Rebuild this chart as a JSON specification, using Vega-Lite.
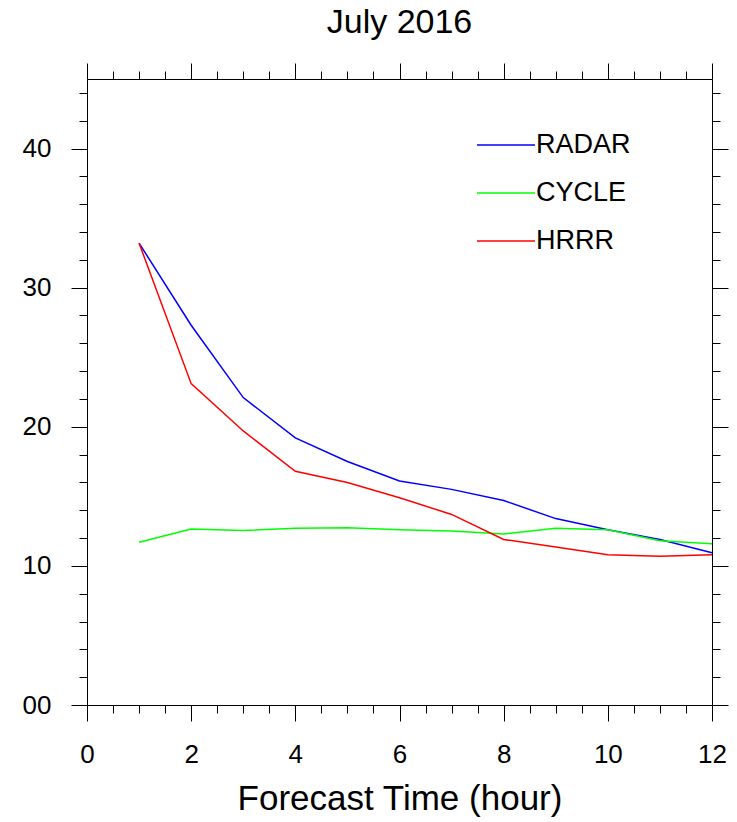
{
  "$schema": "https://vega.github.io/schema/vega-lite/v6.json",
  "width": 625,
  "height": 626,
  "autosize": "none",
  "padding": {"left": 87, "top": 79, "right": 25, "bottom": 117},
  "background": "white",
  "config": {"view": {"stroke": null}, "font": "Liberation Sans"},
  "title": {"text": "July 2016", "fontSize": 34, "font": "Liberation Sans", "fontWeight": "normal", "color": "black", "offset": 23},
  "data": {"values": [
    {"t": 1, "v": 33.2, "s": "RADAR"}, {"t": 2, "v": 27.3, "s": "RADAR"}, {"t": 3, "v": 22.1, "s": "RADAR"}, {"t": 4, "v": 19.2, "s": "RADAR"},
    {"t": 5, "v": 17.5, "s": "RADAR"}, {"t": 6, "v": 16.1, "s": "RADAR"}, {"t": 7, "v": 15.5, "s": "RADAR"}, {"t": 8, "v": 14.7, "s": "RADAR"},
    {"t": 9, "v": 13.4, "s": "RADAR"}, {"t": 10, "v": 12.6, "s": "RADAR"}, {"t": 11, "v": 11.9, "s": "RADAR"}, {"t": 12, "v": 10.95, "s": "RADAR"},
    {"t": 1, "v": 11.7, "s": "CYCLE"}, {"t": 2, "v": 12.65, "s": "CYCLE"}, {"t": 3, "v": 12.55, "s": "CYCLE"}, {"t": 4, "v": 12.7, "s": "CYCLE"},
    {"t": 5, "v": 12.75, "s": "CYCLE"}, {"t": 6, "v": 12.6, "s": "CYCLE"}, {"t": 7, "v": 12.5, "s": "CYCLE"}, {"t": 8, "v": 12.3, "s": "CYCLE"},
    {"t": 9, "v": 12.7, "s": "CYCLE"}, {"t": 10, "v": 12.6, "s": "CYCLE"}, {"t": 11, "v": 11.8, "s": "CYCLE"}, {"t": 12, "v": 11.6, "s": "CYCLE"},
    {"t": 1, "v": 33.2, "s": "HRRR"}, {"t": 2, "v": 23.1, "s": "HRRR"}, {"t": 3, "v": 19.7, "s": "HRRR"}, {"t": 4, "v": 16.8, "s": "HRRR"},
    {"t": 5, "v": 16.0, "s": "HRRR"}, {"t": 6, "v": 14.9, "s": "HRRR"}, {"t": 7, "v": 13.7, "s": "HRRR"}, {"t": 8, "v": 11.9, "s": "HRRR"},
    {"t": 9, "v": 11.35, "s": "HRRR"}, {"t": 10, "v": 10.8, "s": "HRRR"}, {"t": 11, "v": 10.7, "s": "HRRR"}, {"t": 12, "v": 10.8, "s": "HRRR"}
  ]},
  "layer": [
    {
      "mark": {"type": "line", "strokeWidth": 1.5},
      "encoding": {
        "x": {"field": "t", "type": "quantitative", "scale": {"domain": [0, 12], "nice": false},
          "axis": {"orient": "bottom", "values": [0,0.5,1,1.5,2,2.5,3,3.5,4,4.5,5,5.5,6,6.5,7,7.5,8,8.5,9,9.5,10,10.5,11,11.5,12],
            "labelExpr": "datum.value % 2 === 0 ? format(datum.value, 'd') : ''",
            "tickSize": {"condition": {"test": "datum.value % 2 === 0", "value": 16}, "value": 8},
            "grid": false, "labelFontSize": 26, "labelPadding": 20, "labelColor": "black", "labelFlush": false, "labelOverlap": false,
            "domainColor": "black", "tickColor": "black",
            "title": "Forecast Time (hour)", "titleFontSize": 35, "titleFontWeight": "normal", "titleColor": "black", "titlePadding": 14}},
        "y": {"field": "v", "type": "quantitative", "scale": {"domain": [0, 45], "nice": false},
          "axis": {"orient": "left", "values": [0,2,4,6,8,10,12,14,16,18,20,22,24,26,28,30,32,34,36,38,40,42,44],
            "labelExpr": "datum.value === 0 ? '00' : (datum.value % 10 === 0 ? datum.label : '')",
            "tickSize": {"condition": {"test": "datum.value % 10 === 0", "value": 16}, "value": 8},
            "grid": false, "labelFontSize": 26, "labelPadding": 20, "labelColor": "black", "labelFlush": false, "labelOverlap": false,
            "domainColor": "black", "tickColor": "black", "title": null}},
        "color": {"field": "s", "type": "nominal",
          "scale": {"domain": ["RADAR", "CYCLE", "HRRR"], "range": ["#0000ff", "#00ff00", "#ff0000"]},
          "legend": {"orient": "none", "legendX": 389, "legendY": 36, "title": null, "symbolType": "stroke", "symbolSize": 3364,
            "symbolStrokeWidth": 1.5, "labelFontSize": 27, "labelColor": "black", "labelOffset": 0, "rowPadding": 5}}
      }
    },
    {
      "mark": {"type": "line", "opacity": 0},
      "encoding": {
        "x": {"field": "t", "type": "quantitative",
          "axis": {"orient": "top", "values": [0,0.5,1,1.5,2,2.5,3,3.5,4,4.5,5,5.5,6,6.5,7,7.5,8,8.5,9,9.5,10,10.5,11,11.5,12],
            "labels": false, "grid": false, "title": null,
            "tickSize": {"condition": {"test": "datum.value % 2 === 0", "value": 16}, "value": 8},
            "domainColor": "black", "tickColor": "black"}},
        "y": {"field": "v", "type": "quantitative",
          "axis": {"orient": "right", "values": [0,2,4,6,8,10,12,14,16,18,20,22,24,26,28,30,32,34,36,38,40,42,44],
            "labels": false, "grid": false, "title": null,
            "tickSize": {"condition": {"test": "datum.value % 10 === 0", "value": 16}, "value": 8},
            "domainColor": "black", "tickColor": "black"}},
        "detail": {"field": "s", "type": "nominal"}
      }
    }
  ],
  "resolve": {"axis": {"x": "independent", "y": "independent"}}
}
